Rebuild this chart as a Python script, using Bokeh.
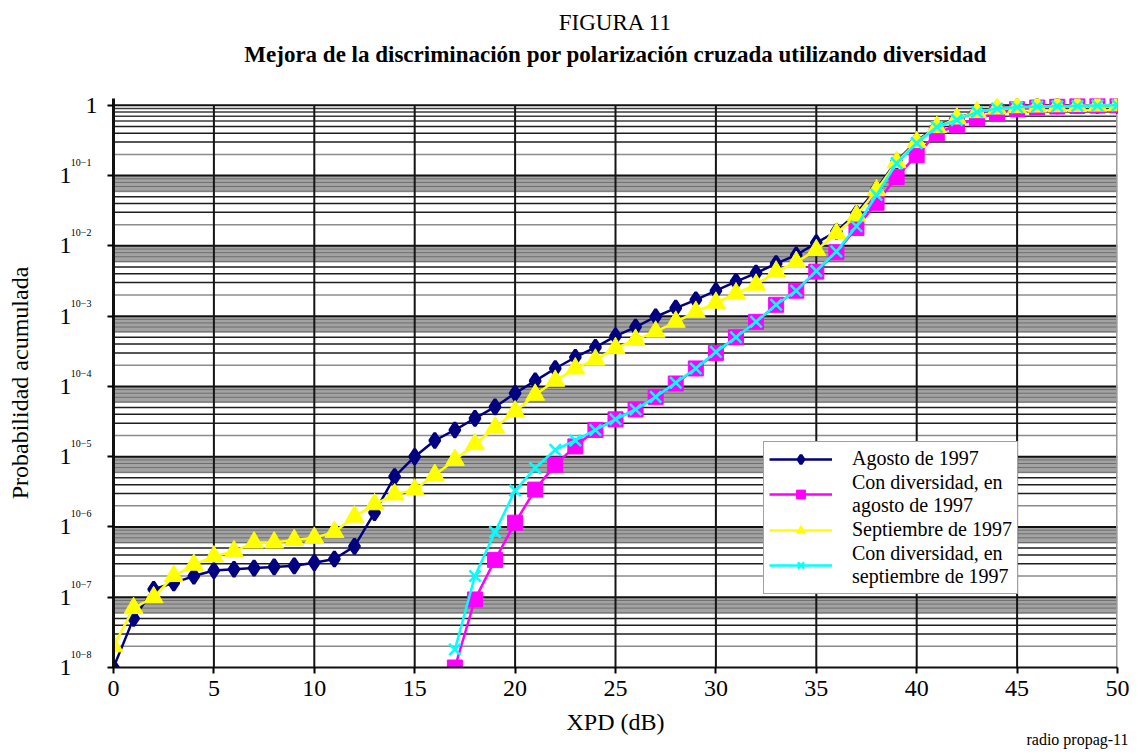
import math
from bokeh.plotting import figure
from bokeh.models import (Range1d, FixedTicker, Legend, LegendItem, ColumnDataSource,
                          LogAxis, LogScale, LinearAxis, Title)
from bokeh.embed import file_html
from bokeh.resources import INLINE

# ---------------- data ----------------
xpd = list(range(0, 51))
agosto = [1.0e-8, 5.0e-8, 1.3e-7, 1.6e-7, 2.0e-7, 2.4e-7, 2.5e-7, 2.6e-7, 2.7e-7, 2.8e-7,
          3.1e-7, 3.5e-7, 5.3e-7, 1.6e-6, 5.2e-6, 1.0e-5, 1.7e-5, 2.4e-5, 3.5e-5, 5.1e-5,
          8.0e-5, 1.2e-4, 1.8e-4, 2.6e-4, 3.6e-4, 5.2e-4, 7.0e-4, 9.8e-4, 1.3e-3, 1.7e-3,
          2.3e-3, 3.1e-3, 4.1e-3, 5.6e-3, 7.4e-3, 1.1e-2, 1.6e-2, 2.9e-2, 6.5e-2, 0.16,
          0.31, 0.50, 0.66, 0.80, 0.90, 0.95, 0.97, 0.98, 0.99, 0.995, 1.0]
septiembre = [2.0e-8, 7.0e-8, 1.0e-7, 2.0e-7, 2.9e-7, 3.8e-7, 4.5e-7, 6.0e-7, 6.0e-7, 6.5e-7,
              7.0e-7, 8.5e-7, 1.4e-6, 2.1e-6, 2.9e-6, 3.4e-6, 5.5e-6, 9.0e-6, 1.5e-5, 2.6e-5,
              4.4e-5, 7.6e-5, 1.2e-4, 1.8e-4, 2.4e-4, 3.5e-4, 4.6e-4, 6.0e-4, 8.3e-4, 1.15e-3,
              1.55e-3, 2.1e-3, 2.8e-3, 4.3e-3, 5.9e-3, 8.7e-3, 1.5e-2, 2.7e-2, 6.2e-2, 0.155,
              0.30, 0.49, 0.65, 0.80, 0.90, 0.94, 0.96, 0.97, 0.98, 0.99, 1.0]
xpd_div = list(range(17, 51))
div_agosto = [1.0e-8, 9.3e-8, 3.4e-7, 1.15e-6, 3.4e-6, 7.7e-6, 1.4e-5, 2.4e-5, 3.4e-5, 4.7e-5,
              7.1e-5, 1.1e-4, 1.8e-4, 3.0e-4, 5.0e-4, 8.3e-4, 1.45e-3, 2.3e-3, 4.3e-3, 8.1e-3,
              1.8e-2, 4.1e-2, 0.095, 0.195, 0.40, 0.52, 0.65, 0.78, 0.88, 0.93, 0.96, 0.98,
              0.99, 1.0]
div_septiembre = [1.8e-8, 2.0e-7, 8.5e-7, 3.3e-6, 6.9e-6, 1.25e-5, 1.7e-5, 2.4e-5, 3.4e-5, 4.7e-5,
                  7.1e-5, 1.13e-4, 1.8e-4, 3.1e-4, 5.0e-4, 8.3e-4, 1.45e-3, 2.3e-3, 4.4e-3, 8.3e-3,
                  1.9e-2, 5.3e-2, 0.15, 0.29, 0.49, 0.62, 0.80, 0.90, 0.94, 0.96, 0.97, 0.98,
                  0.99, 1.0]

x_ticks = [0, 5, 10, 15, 20, 25, 30, 35, 40, 45, 50]
y_exps = [0, -1, -2, -3, -4, -5, -6, -7, -8]

title_text = "FIGURA 11"
subtitle_text = "Mejora de la discriminación por polarización cruzada utilizando diversidad"
x_label = "XPD (dB)"
y_label = "Probabilidad acumulada"
legend_labels = ["Agosto de 1997", "Con diversidad, en\nagosto de 1997",
                 "Septiembre de 1997", "Con diversidad, en\nseptiembre de 1997"]
source_note = "radio propag-11"

FONT = "Liberation Serif"

# ---------------- figure ----------------
Y_TOP = 1.25
p = figure(width=1138, height=755, y_axis_type="log", title=None,
           x_range=Range1d(0, 50), y_range=Range1d(1e-8, Y_TOP),
           output_backend="svg", toolbar_location=None,
           min_border_left=113, min_border_right=21, min_border_top=98, min_border_bottom=88)
p.outline_line_color = None
p.xgrid.visible = False
p.ygrid.visible = False
p.background_fill_color = "white"
p.border_fill_color = "white"

F_H = 569
DEC = F_H / (8 + math.log10(Y_TOP))   # pixels per decade

# ---------------- background grid ----------------
band_b, band_t = [], []
gy, gc, gw = [], [], []
for t in range(-7, 1):
    T = 10.0 ** t
    if t < 0:
        band_b.append(0.58 * T)
        band_t.append(T)
        for m in (0.9, 0.8, 0.7, 0.6):
            gy.append(m * T); gc.append("#6e6e6e"); gw.append(1)
    else:
        for m in (0.9, 0.8, 0.7, 0.6):
            gy.append(m * T); gc.append("#3c3c3c"); gw.append(1.5)
    for m in (0.5, 0.4, 0.3):
        gy.append(m * T); gc.append("#1e1e1e"); gw.append(1.5)
    gy.append(0.2 * T); gc.append("#8c8c8c"); gw.append(1.5)
    gy.append(T); gc.append("#111111"); gw.append(2)

p.quad(left=0, right=50, bottom=band_b, top=band_t, fill_color="#a3a3a3", line_color=None)
gsrc = ColumnDataSource(dict(y=gy, c=gc, w=gw))
p.segment(x0=0, x1=50, y0="y", y1="y", line_color="c", line_width="w", source=gsrc)
p.segment(x0=x_ticks[1:-1], x1=x_ticks[1:-1], y0=1e-8, y1=1.0, line_color="#151515", line_width=2)
p.segment(x0=[50], x1=[50], y0=1e-8, y1=1.0, line_color="#9a9a9a", line_width=3)

# ---------------- series ----------------
r1l = p.line(xpd, agosto, line_color="#000080", line_width=2.5)
r1m = p.scatter(xpd, agosto, marker="diamond", size=15, fill_color="#000080",
                line_color="#000080", line_width=3)
r2l = p.line(xpd_div, div_agosto, line_color="#ff00ff", line_width=2.5)
r2m = p.scatter(xpd_div, div_agosto, marker="square", size=15, fill_color="#ff00ff",
                line_color="#ff00ff")
r3l = p.line(xpd, septiembre, line_color="#ffff00", line_width=2.5)
r3m = p.scatter(xpd, septiembre, marker="triangle", size=19, fill_color="#ffff00",
                line_color="#ffff00")
r4l = p.line(xpd_div, div_septiembre, line_color="#00ffff", line_width=2.5)
r4m = p.scatter(xpd_div, div_septiembre, marker="x", size=16, line_color="#00ffff", line_width=2.5)

# ---------------- x axis ----------------
p.xaxis.ticker = FixedTicker(ticks=x_ticks)
p.xaxis.major_label_text_font = FONT
p.xaxis.major_label_text_font_size = "24px"
p.xaxis.major_label_text_color = "black"
p.xaxis.major_label_standoff = 7
p.xaxis.major_tick_out = 6
p.xaxis.major_tick_in = 0
p.xaxis.minor_tick_out = 0
p.xaxis.minor_tick_in = 0
p.xaxis.axis_line_color = "#111111"
p.xaxis.axis_line_width = 2
p.xaxis.major_tick_line_width = 2
p.xaxis.axis_label = x_label
p.xaxis.axis_label_text_font = FONT
p.xaxis.axis_label_text_font_size = "24px"
p.xaxis.axis_label_text_font_style = "normal"
p.xaxis.axis_label_text_color = "black"
p.xaxis.axis_label_standoff = 10

# ---------------- y axes ----------------
decades = [10.0 ** e for e in y_exps]
# main axis: ticks, thick line, only the top "1"
p.yaxis.ticker = FixedTicker(ticks=decades)
p.yaxis.major_label_overrides = {10.0 ** e: ("1" if e == 0 else "") for e in y_exps}
p.yaxis.major_label_text_font = FONT
p.yaxis.major_label_text_font_size = "24px"
p.yaxis.major_label_text_color = "black"
p.yaxis.major_label_standoff = 10
p.yaxis.major_tick_out = 6
p.yaxis.major_tick_in = 0
p.yaxis.minor_tick_out = 0
p.yaxis.minor_tick_in = 0
p.yaxis.axis_line_color = "#111111"
p.yaxis.axis_line_width = 3
p.yaxis.major_tick_line_width = 2

# superscript part "10^-k", raised above each decade line
sup_f = 10 ** (-13.0 / DEC)
p.extra_y_ranges = {"sup": Range1d(1e-8 * sup_f, Y_TOP * sup_f)}
p.extra_y_scales = {"sup": LogScale()}
ax_sup = LogAxis(y_range_name="sup", ticker=FixedTicker(ticks=decades),
                 major_label_overrides={10.0 ** e: ("" if e == 0 else "10\u2212%d" % (-e)) for e in y_exps},
                 major_label_text_font=FONT, major_label_text_font_size="10px",
                 major_label_text_color="black", major_label_standoff=-9,
                 major_tick_line_color=None, minor_tick_line_color=None, axis_line_color=None,
                 major_tick_out=0, minor_tick_out=0, major_tick_in=0, minor_tick_in=0)
p.add_layout(ax_sup, "left")

# big "1" mantissa + axis title
ax_one = LogAxis(ticker=FixedTicker(ticks=decades),
                 major_label_overrides={10.0 ** e: ("" if e == 0 else "1") for e in y_exps},
                 major_label_text_font=FONT, major_label_text_font_size="24px",
                 major_label_text_color="black", major_label_standoff=-4,
                 major_tick_line_color=None, minor_tick_line_color=None, axis_line_color=None,
                 major_tick_out=0, minor_tick_out=0, major_tick_in=0, minor_tick_in=0,
                 axis_label=y_label, axis_label_text_font=FONT, axis_label_text_font_size="24px",
                 axis_label_text_font_style="normal", axis_label_text_color="black",
                 axis_label_standoff=24)
p.add_layout(ax_one, "left")

# ---------------- titles ----------------
ax_title = LinearAxis(ticker=FixedTicker(ticks=[]), axis_line_color=None,
                      major_tick_line_color=None, minor_tick_line_color=None,
                      major_label_text_font_size="1px",
                      axis_label=subtitle_text, axis_label_text_font=FONT,
                      axis_label_text_font_size="23px", axis_label_text_font_style="bold",
                      axis_label_text_color="black", axis_label_standoff=32)
p.add_layout(ax_title, "above")
p.add_layout(Title(text=title_text, align="center", text_font=FONT, text_font_size="23px",
                   text_font_style="normal", text_color="black", standoff=8), "above")
p.add_layout(Title(text=source_note, align="right", offset=-11, text_font=FONT,
                   text_font_size="16px", text_font_style="normal", text_color="black",
                   standoff=-18), "below")

# ---------------- legend ----------------
items = [LegendItem(label=legend_labels[0], renderers=[r1l, r1m]),
         LegendItem(label=legend_labels[1], renderers=[r2l, r2m]),
         LegendItem(label=legend_labels[2], renderers=[r3l, r3m]),
         LegendItem(label=legend_labels[3], renderers=[r4l, r4m])]
legend = Legend(items=items, location=(650, 73), glyph_width=63, glyph_height=22,
                label_standoff=20, padding=5, spacing=1, margin=0,
                label_text_font=FONT, label_text_font_size="20px", label_text_line_height=0.8,
                label_text_color="black",
                border_line_color="#444444", border_line_width=1.5,
                background_fill_color="white", background_fill_alpha=1.0)
p.add_layout(legend)

open("out.html", "w").write(file_html(p, INLINE))
